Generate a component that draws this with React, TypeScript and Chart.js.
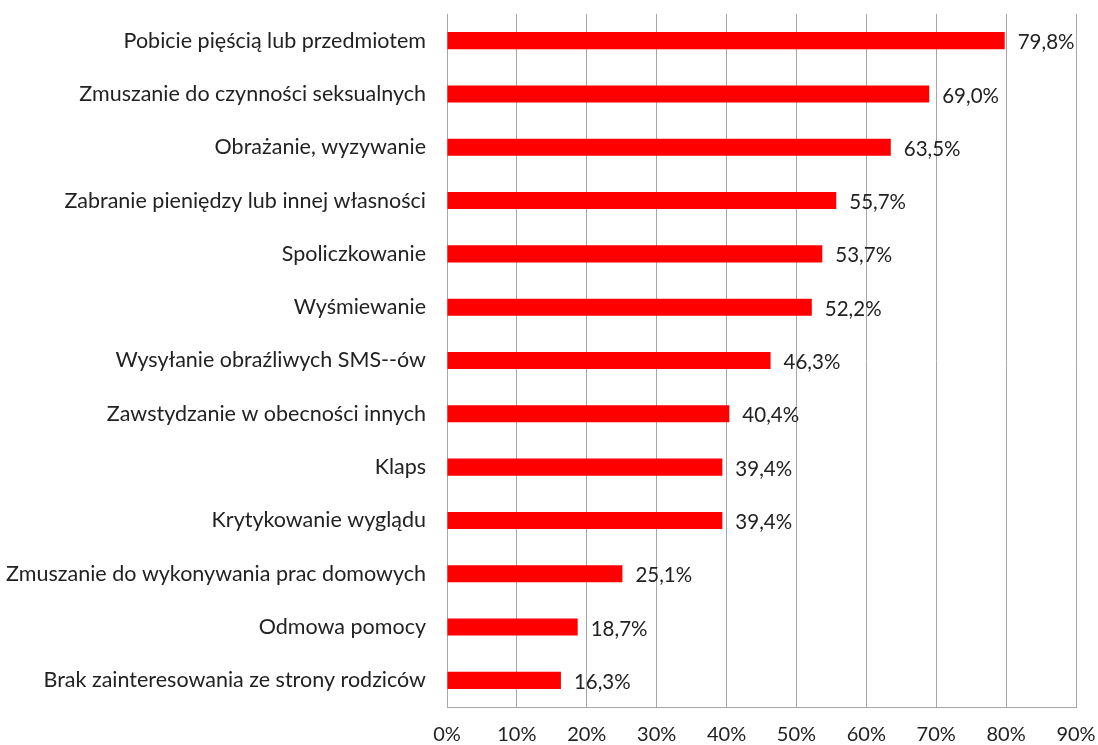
import React, { useEffect, useRef } from "react";
import { Chart, registerables } from "chart.js";

Chart.register(...registerables);

const categories = [
  "Pobicie pięścią lub przedmiotem",
  "Zmuszanie do czynności seksualnych",
  "Obrażanie, wyzywanie",
  "Zabranie pieniędzy lub innej własności",
  "Spoliczkowanie",
  "Wyśmiewanie",
  "Wysyłanie obraźliwych SMS--ów",
  "Zawstydzanie w obecności innych",
  "Klaps",
  "Krytykowanie wyglądu",
  "Zmuszanie do wykonywania prac domowych",
  "Odmowa pomocy",
  "Brak zainteresowania ze strony rodziców",
];
const values = [79.8, 69.0, 63.5, 55.7, 53.7, 52.2, 46.3, 40.4, 39.4, 39.4, 25.1, 18.7, 16.3];
const xTicks = [0, 10, 20, 30, 40, 50, 60, 70, 80, 90];

const FONT = "Lato, 'Open Sans', sans-serif";

const valueLabels = {
  id: "valueLabels",
  afterDatasetsDraw(chart: any) {
    const ctx = chart.ctx;
    const meta = chart.getDatasetMeta(0);
    ctx.save();
    ctx.fillStyle = "#222";
    ctx.font = `20.5px ${FONT}`;
    ctx.textAlign = "left";
    ctx.textBaseline = "middle";
    meta.data.forEach((bar: any, i: number) => {
      const txt = values[i].toFixed(1).replace(".", ",") + "%";
      ctx.fillText(txt, bar.x + 13, bar.y + 2);
    });
    ctx.restore();
  },
};

export default function App() {
  const ref = useRef<HTMLCanvasElement | null>(null);
  useEffect(() => {
    if (!ref.current) return;
    const chart = new Chart(ref.current, {
      type: "bar",
      data: {
        labels: categories,
        datasets: [
          {
            data: values,
            backgroundColor: "#ff0000",
            borderWidth: 0,
            categoryPercentage: 1,
            barPercentage: 0.32,
          },
        ],
      },
      plugins: [valueLabels],
      options: {
        indexAxis: "y",
        animation: false,
        responsive: false,
        maintainAspectRatio: false,
        layout: { padding: { top: 14, right: 22, left: 0, bottom: 0 } },
        plugins: {
          legend: { display: false },
          tooltip: { enabled: false },
        },
        scales: {
          x: {
            min: 0,
            max: 90,
            afterBuildTicks: (axis: any) => {
              axis.ticks = xTicks.map((v) => ({ value: v }));
            },
            afterFit: (axis: any) => {
              axis.height = 38;
              axis.paddingLeft = 0;
              axis.paddingRight = 0;
            },
            grid: {
              color: "#a6a6a6",
              lineWidth: 1,
              drawTicks: false,
            },
            border: { display: true, color: "#a6a6a6" },
            ticks: {
              padding: 16,
              color: "#222",
              font: { family: FONT, size: 20 },
              callback: (v: any) => v + "%",
              maxRotation: 0,
            },
          },
          y: {
            afterFit: (axis: any) => {
              axis.width = 447;
              axis.paddingTop = 0;
              axis.paddingBottom = 0;
            },
            grid: { display: false, drawTicks: false },
            border: { display: true, color: "#a6a6a6" },
            ticks: {
              padding: 21,
              color: "#222",
              font: { family: FONT, size: 21.5 },
            },
          },
        },
      },
    });
    return () => chart.destroy();
  }, []);
  return (
    <div style={{ position: "fixed", left: 0, top: 0, width: 1098, height: 745, background: "#fff" }}>
      <canvas ref={ref} width={1098} height={745} style={{ width: 1098, height: 745 }} />
    </div>
  );
}
